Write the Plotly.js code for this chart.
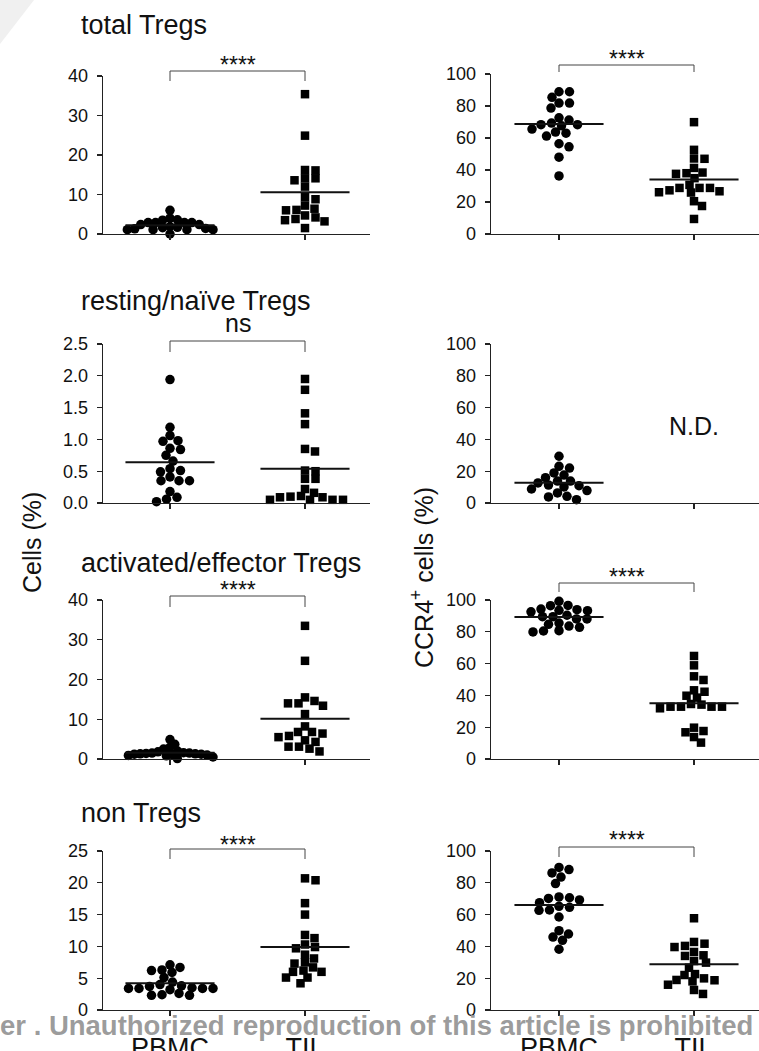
<!DOCTYPE html>
<html>
<head>
<meta charset="utf-8">
<script src="https://cdn.plot.ly/plotly-3.0.1.min.js"></script>
<style>
html,body{margin:0;padding:0;background:#fff;}
#chart{width:759px;height:1051px;}
</style>
</head>
<body>
<div id="chart"></div>
<script>
// ---------------- DATA ----------------
const groups = ['PBMC', 'TIL'];
const panelTitles = ['total Tregs', 'resting/naïve Tregs', 'activated/effector Tregs', 'non Tregs'];

// Left column: Cells (%)
const totalTregsPBMC = [6.0, 3.6, 4.0, 3.5, 2.4, 2.9, 2.9, 2.9, 2.9, 2.4, 1.7, 1.4, 1.1, 1.1, 0.0, 1.1, 1.1, 1.3, 1.6, 1.9];
const totalTregsTIL = [35.4, 24.9, 16.1, 16.2, 14.1, 13.6, 14.1, 12.0, 9.3, 8.8, 7.2, 6.1, 6.4, 6.0, 4.7, 3.5, 4.2, 3.2, 3.8, 1.5];
const restingPBMC = [1.94, 1.19, 1.06, 0.98, 0.97, 0.86, 0.84, 0.75, 0.66, 0.51, 0.49, 0.54, 0.35, 0.35, 0.35, 0.41, 0.18, 0.09, 0.06, 0.02];
const restingTIL = [1.95, 1.78, 1.41, 1.24, 0.85, 0.81, 0.51, 0.50, 0.38, 0.38, 0.22, 0.16, 0.11, 0.09, 0.05, 0.05, 0.05, 0.05, 0.09, 0.10];
const activatedPBMC = [4.9, 3.7, 2.8, 2.5, 2.0, 1.8, 1.6, 1.5, 1.5, 1.4, 1.3, 1.3, 1.2, 1.2, 1.1, 1.0, 0.9, 0.8, 0.5, 0.1];
const activatedTIL = [33.5, 24.7, 14.6, 14.0, 13.4, 14.0, 15.5, 11.3, 8.2, 6.8, 6.4, 6.8, 5.5, 5.8, 4.3, 4.7, 3.1, 3.1, 2.6, 1.9];
const nonTregsPBMC = [7.1, 6.7, 6.3, 6.2, 5.9, 5.1, 4.4, 4.0, 3.7, 3.4, 3.4, 3.4, 3.8, 3.5, 3.4, 3.2, 2.4, 2.3, 2.3, 2.6];
const nonTregsTIL = [20.7, 20.4, 16.8, 15.0, 11.8, 11.3, 9.9, 9.7, 10.3, 8.7, 8.1, 7.5, 7.3, 6.7, 6.0, 6.0, 6.2, 5.1, 5.1, 4.2];

// Right column: CCR4+ cells (%)
const totalCCR4PBMC = [88.9, 88.9, 85.4, 81.8, 81.8, 78.7, 71.2, 72.6, 68.3, 67.6, 65.6, 68.3, 69.3, 63.0, 63.7, 61.2, 54.5, 56.4, 48.0, 36.3];
const totalCCR4TIL = [69.9, 52.6, 47.0, 47.2, 41.3, 38.4, 37.6, 38.0, 34.9, 28.8, 26.7, 25.9, 28.8, 26.1, 27.3, 28.8, 30.7, 20.5, 17.5, 9.4];
const restingCCR4PBMC = [29.4, 23.1, 22.0, 18.9, 17.6, 15.9, 13.8, 13.8, 11.3, 12.6, 10.1, 10.9, 7.8, 8.8, 6.3, 4.2, 3.8, 2.1];
const restingCCR4TIL = []; // N.D.
const activatedCCR4PBMC = [99.2, 96.4, 96.6, 94.3, 93.5, 92.6, 93.3, 93.9, 89.5, 88.1, 88.1, 89.5, 90.4, 85.5, 83.6, 84.7, 82.8, 80.7, 79.9, 80.5];
const activatedCCR4TIL = [64.8, 58.9, 52.0, 49.7, 43.2, 42.3, 39.8, 38.6, 34.6, 32.9, 32.9, 31.9, 32.9, 32.9, 34.2, 19.7, 17.6, 16.8, 13.8, 10.3];
const nonCCR4PBMC = [89.7, 88.3, 86.2, 83.6, 79.5, 70.6, 70.2, 69.2, 71.1, 67.5, 65.2, 64.6, 62.7, 62.9, 58.5, 47.8, 49.9, 45.9, 43.8, 38.2];
const nonCCR4TIL = [57.7, 42.8, 41.7, 39.6, 40.3, 34.4, 34.0, 36.5, 30.8, 29.8, 26.6, 22.6, 19.9, 18.7, 18.0, 18.9, 22.0, 15.9, 12.6, 10.1];

// Centre lines
const cellsLinePBMC = [2.2, 0.64, 1.6, 4.2];
const cellsLineTIL = [10.6, 0.54, 10.1, 9.9];
const ccr4LinePBMC = [68.7, 12.8, 89.3, 66.0];
const ccr4LineTIL = [34.0, null, 35.0, 28.7];

// Significance labels
const cellsSig = ['****', 'ns', '****', '****'];
const ccr4Sig = ['****', null, '****', '****'];
const ccr4NoteTIL = [null, 'N.D.', null, null];

// Axis ticks
const cellsTicks = [[0, 10, 20, 30, 40], [0, 0.5, 1.0, 1.5, 2.0, 2.5], [0, 10, 20, 30, 40], [0, 5, 10, 15, 20, 25]];
const cellsTickText = [['0', '10', '20', '30', '40'], ['0.0', '0.5', '1.0', '1.5', '2.0', '2.5'], ['0', '10', '20', '30', '40'], ['0', '5', '10', '15', '20', '25']];
const ccr4Ticks = [0, 20, 40, 60, 80, 100];
const cellsMax = [40, 2.5, 40, 25];
const ccr4Max = 100;

const yTitleLeft = 'Cells (%)';
const yTitleRight = 'CCR4<sup>+</sup> cells (%)';
const watermark = 'er . Unauthorized reproduction of this article is prohibited';

// ---------------- LAYOUT HELPERS ----------------
const W = 759, H = 1051;
const FONT = '"Liberation Sans", Arial, Helvetica, sans-serif';
const px2x = p => p / W;
const px2y = p => 1 - p / H;

const colGeom = [{ l: 103, r: 370, c0: 170 }, { l: 491, r: 759, c0: 559 }];
const rowGeom = [
  [{ t: 76, b: 234 }, { t: 74, b: 234 }],
  [{ t: 344, b: 503 }, { t: 344, b: 503 }],
  [{ t: 600, b: 759 }, { t: 600, b: 759 }],
  [{ t: 851, b: 1010 }, { t: 851, b: 1010 }]
];
const catPx = 135;
const maxSpreadPx = 43;
const bracketGeom = [
  [{ top: 71, leg: 81, star: 65 }, { top: 65, leg: 72, star: 59.5 }],
  [{ top: 341, leg: 352, star: 323 }, null],
  [{ top: 596, leg: 607, star: 590 }, { top: 583, leg: 592, star: 576.5 }],
  [{ top: 849, leg: 859, star: 844.5 }, { top: 847, leg: 857, star: 839.5 }]
];
const titleCenters = [25, 301, 563, 813];

const cellsData = [[totalTregsPBMC, totalTregsTIL], [restingPBMC, restingTIL], [activatedPBMC, activatedTIL], [nonTregsPBMC, nonTregsTIL]];
const ccr4Data = [[totalCCR4PBMC, totalCCR4TIL], [restingCCR4PBMC, restingCCR4TIL], [activatedCCR4PBMC, activatedCCR4TIL], [nonCCR4PBMC, nonCCR4TIL]];

// beeswarm spread in pixel space (elliptical footprint), capped width, returned in category units
function swarm(vals, yScale, DX, DY) {
  const idx = vals.map((v, i) => i).sort((a, b) => vals[b] - vals[a]);
  const placed = [];
  const px = new Array(vals.length).fill(0);
  for (const i of idx) {
    const y = vals[i] * yScale;
    let k = 0, dx = 0;
    while (k < 4000) {
      dx = k === 0 ? 0 : (k % 2 === 1 ? 1 : -1) * Math.ceil(k / 2) * 0.5;
      if (placed.every(p => ((p.x - dx) / DX) ** 2 + ((p.y - y) / DY) ** 2 >= 1)) break;
      k++;
    }
    placed.push({ x: dx, y: y });
    px[i] = dx;
  }
  const m = Math.max(...px.map(Math.abs));
  const f = m > maxSpreadPx ? maxSpreadPx / m : 1;
  return px.map(d => d * f / catPx);
}

const traces = [];
const layout = {
  width: W, height: H,
  margin: { l: 0, r: 0, t: 0, b: 0 },
  paper_bgcolor: '#fff', plot_bgcolor: 'rgba(0,0,0,0)',
  showlegend: false,
  font: { family: FONT, color: '#111' },
  annotations: [], shapes: []
};

for (let row = 0; row < 4; row++) {
  for (let col = 0; col < 2; col++) {
    const i = row * 2 + col;
    const n = i + 1;
    const xa = n === 1 ? 'xaxis' : 'xaxis' + n;
    const ya = n === 1 ? 'yaxis' : 'yaxis' + n;
    const xr = n === 1 ? 'x' : 'x' + n;
    const yr = n === 1 ? 'y' : 'y' + n;
    const cg = colGeom[col], rg = rowGeom[row][col];
    const r0 = (cg.l - cg.c0) / catPx, r1 = (cg.r - cg.c0) / catPx;
    const ymax = col === 0 ? cellsMax[row] : ccr4Max;
    const yScale = (rg.b - rg.t) / ymax;

    layout[xa] = {
      domain: [px2x(cg.l), Math.min(1, px2x(cg.r))],
      range: [r0, r1], anchor: yr,
      tickvals: [0, 1], ticktext: row === 3 ? groups : [' ', ' '],
      ticks: 'outside', ticklen: 5, tickwidth: 1.3, tickcolor: '#222',
      showline: true, linecolor: '#222', linewidth: 1.3,
      showgrid: false, zeroline: false, fixedrange: true,
      tickfont: { family: FONT, size: 27, color: '#111' },
      ticklabelstandoff: 8
    };
    layout[ya] = {
      domain: [px2y(rg.b), px2y(rg.t)],
      range: [0, ymax], anchor: xr,
      tickvals: col === 0 ? cellsTicks[row] : ccr4Ticks,
      ticktext: col === 0 ? cellsTickText[row] : ccr4Ticks.map(String),
      ticks: 'outside', ticklen: 5, tickwidth: 1.3, tickcolor: '#222',
      showline: true, linecolor: '#222', linewidth: 1.3,
      showgrid: false, zeroline: false, fixedrange: true,
      tickfont: { family: FONT, size: 18, color: '#111' },
      ticklabelstandoff: 5
    };

    const data = col === 0 ? cellsData[row] : ccr4Data[row];
    const lines = col === 0 ? [cellsLinePBMC[row], cellsLineTIL[row]] : [ccr4LinePBMC[row], ccr4LineTIL[row]];
    data.forEach((vals, g) => {
      if (!vals.length) return;
      const offs = swarm(vals, yScale, 10.4, 7.5);
      traces.push({
        type: 'scatter', mode: 'markers', xaxis: xr, yaxis: yr,
        x: vals.map((v, k) => g + offs[k]), y: vals,
        cliponaxis: false, hoverinfo: 'skip',
        marker: { symbol: g === 0 ? 'circle' : 'square', size: g === 0 ? 9.5 : 8.5, color: '#000', line: { width: 0 } }
      });
      if (lines[g] !== null) {
        traces.push({
          type: 'scatter', mode: 'lines', xaxis: xr, yaxis: yr,
          x: [g - 0.33, g + 0.33], y: [lines[g], lines[g]],
          cliponaxis: false, hoverinfo: 'skip',
          line: { color: '#111', width: 2 }
        });
      }
    });

    // significance bracket
    const bg = bracketGeom[row][col];
    const sig = col === 0 ? cellsSig[row] : ccr4Sig[row];
    if (bg && sig) {
      const xa0 = px2x(cg.c0), xa1 = px2x(cg.c0 + catPx);
      layout.shapes.push({
        type: 'path', xref: 'paper', yref: 'paper',
        path: `M${xa0},${px2y(bg.leg)} L${xa0},${px2y(bg.top)} L${xa1},${px2y(bg.top)} L${xa1},${px2y(bg.leg)}`,
        line: { color: '#444', width: 1 }
      });
      layout.annotations.push({
        xref: 'paper', yref: 'paper', x: (xa0 + xa1) / 2, y: px2y(bg.star),
        xanchor: 'center', yanchor: 'middle', showarrow: false,
        text: sig, font: { family: FONT, size: sig === 'ns' ? 25 : 23, color: '#111' }
      });
    }
    const note = col === 1 ? ccr4NoteTIL[row] : null;
    if (note) {
      layout.annotations.push({
        xref: 'paper', yref: 'paper', x: px2x(cg.c0 + catPx), y: px2y(426),
        xanchor: 'center', yanchor: 'middle', showarrow: false,
        text: note, font: { family: FONT, size: 25, color: '#111' }
      });
    }
  }
  layout.annotations.push({
    xref: 'paper', yref: 'paper', x: px2x(79), y: px2y(titleCenters[row]),
    xanchor: 'left', yanchor: 'middle', showarrow: false,
    text: panelTitles[row], font: { family: FONT, size: 27, color: '#111' }
  });
}

// y axis titles
layout.annotations.push({
  xref: 'paper', yref: 'paper', x: px2x(32), y: px2y(543), textangle: -90,
  xanchor: 'center', yanchor: 'middle', showarrow: false,
  text: yTitleLeft, font: { family: FONT, size: 25, color: '#111' }
});
layout.annotations.push({
  xref: 'paper', yref: 'paper', x: px2x(422), y: px2y(578), textangle: -90,
  xanchor: 'center', yanchor: 'middle', showarrow: false,
  text: yTitleRight, font: { family: FONT, size: 25, color: '#111' }
});
// watermark
layout.annotations.push({
  xref: 'paper', yref: 'paper', x: px2x(-2), y: px2y(1025),
  xanchor: 'left', yanchor: 'middle', showarrow: false,
  text: '<b>' + watermark + '</b>', font: { family: FONT, size: 27.5, color: 'rgba(150,150,150,0.95)' }
});
// faint corner mark
layout.shapes.push({
  type: 'path', xref: 'paper', yref: 'paper', layer: 'below',
  path: `M0,1 L${px2x(34)},1 L0,${px2y(44)} Z`,
  fillcolor: '#f0f0f0', line: { width: 0 }
});

Plotly.newPlot('chart', traces, layout, { staticPlot: true, displayModeBar: false });
</script>
</body>
</html>
